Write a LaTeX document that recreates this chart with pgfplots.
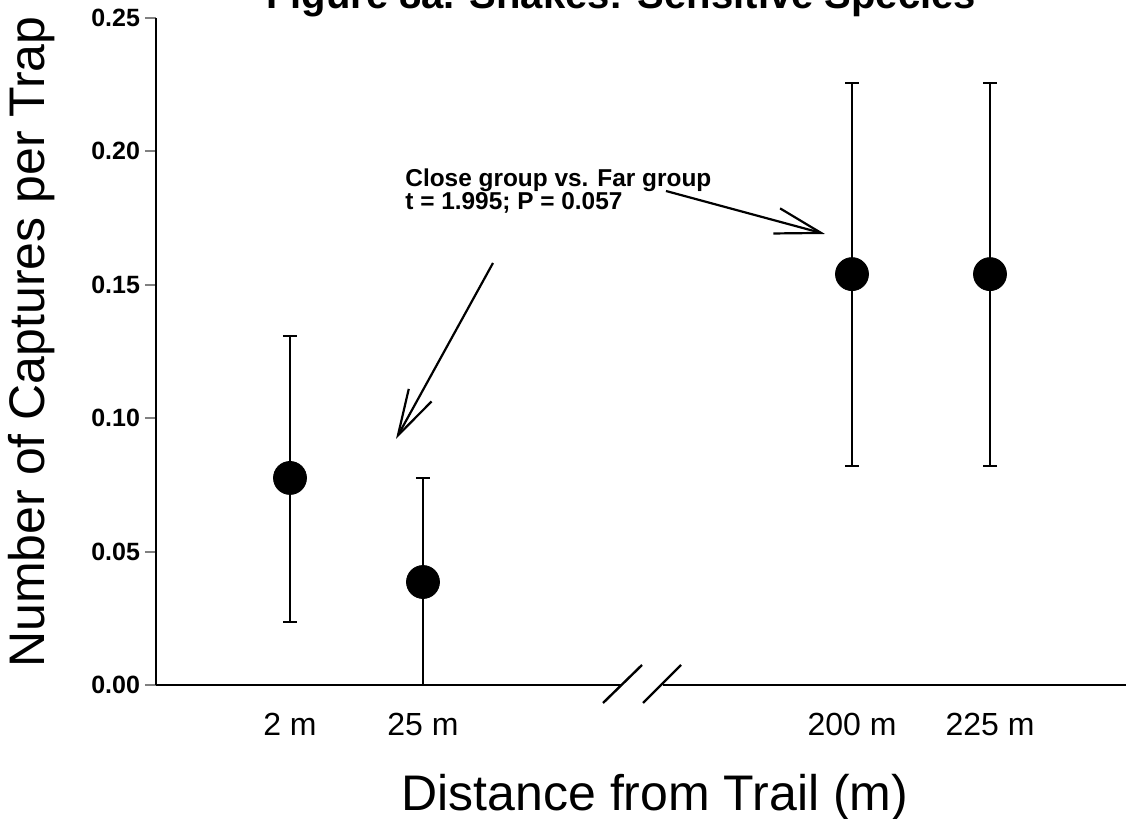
\documentclass[border=0pt]{standalone}
\usepackage{pgfplots}
\pgfplotsset{compat=1.18}
\usepackage{pgfplotstable}
\usepackage{fontspec}
\setmainfont{Liberation Sans}
\usetikzlibrary{arrows.meta}

\pgfplotstableread{
x   y      ep     em
290 0.0776 0.0532 0.0540
423 0.0386 0.0390 0.0386
852 0.1540 0.0716 0.0719
990 0.1540 0.0716 0.0719
}\datatable

\begin{document}
\begin{tikzpicture}
\begin{axis}[
  at={(0pt,0pt)}, anchor=south west,
  scale only axis,
  width=485pt, height=333.5pt,
  xmin=156, xmax=1126,
  ymin=0, ymax=0.25,
  axis lines*=left,
  axis line style={line width=1pt},
  clip=false,
  xtick={290,423,852,990},
  xticklabels={2 m,25 m,200 m,225 m},
  xtick style={draw=none},
  xticklabel style={font=\fontsize{16}{16}\selectfont, yshift=-5pt},
  ytick={0,0.05,0.10,0.15,0.20,0.25},
  yticklabel style={font=\bfseries\fontsize{12.5}{12.5}\selectfont, /pgf/number format/fixed, /pgf/number format/fixed zerofill, /pgf/number format/precision=2, xshift=1pt},
  /pgf/number format/assume math mode=true,
  tick align=outside,
  ytick style={line width=1pt},
  major tick length=5.5pt,
]
\addplot[only marks, mark=*, mark size=8.25pt, black,
  error bars/.cd, y dir=both, y explicit,
  error bar style={line width=1.2pt, black},
  error mark options={rotate=90, mark size=3.5pt, line width=1.2pt, black}]
  table[x=x, y=y, y error plus=ep, y error minus=em] {\datatable};
\end{axis}

% axis break
\fill[white] (233pt,-2pt) rectangle (253.5pt,2pt);
\draw[line width=1.2pt] (223.5pt,-9pt) -- (243pt,10pt);
\draw[line width=1.2pt] (243.5pt,-9pt) -- (262.5pt,10pt);

% annotation
\node[anchor=base west, align=left, inner sep=0pt, font=\bfseries\fontsize{12.2}{11.5}\selectfont] at (124.5pt,237.5pt) {Close group vs. Far group\\t = 1.995; P = 0.057};
\draw[line width=1.1pt, -{Straight Barb[length=23pt,width=13pt,line width=1.1pt]}] (168.5pt,211pt) -- (120pt,123pt);
\draw[line width=1.1pt, -{Straight Barb[length=23pt,width=13pt,line width=1.1pt]}] (255pt,247pt) -- (334.5pt,225.5pt);

% labels
\node[anchor=base, inner sep=0pt, font=\fontsize{25}{25}\selectfont] at (249.5pt,-63pt) {Distance from Trail (m)};
\node[anchor=base, rotate=90, inner sep=0pt, font=\fontsize{25}{25}\selectfont] at (-55.5pt,171.5pt) {Number of Captures per Trap};
\node[anchor=base, inner sep=0pt, font=\bfseries\fontsize{20}{20}\selectfont] at (232.5pt,338pt) {Figure 8a. Snakes: Sensitive Species};

\pgfresetboundingbox
\useasboundingbox (-78pt,-67pt) rectangle (485pt,342.5pt);
\end{tikzpicture}
\end{document}
